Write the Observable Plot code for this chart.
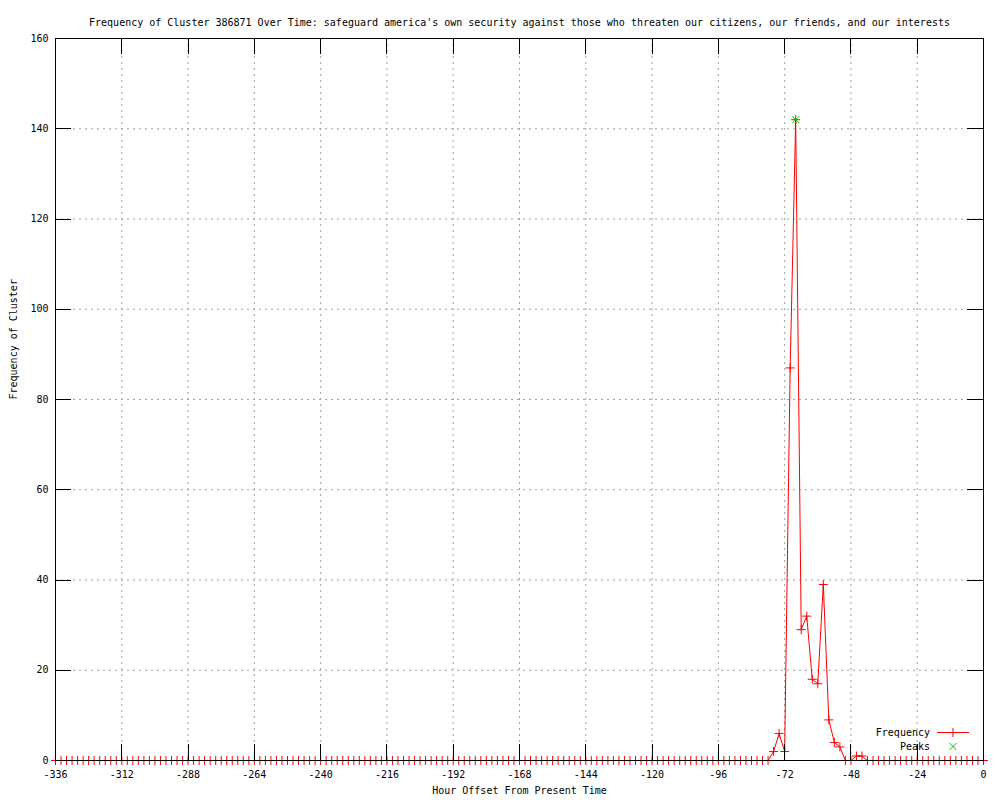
<!DOCTYPE html>
<html><head><meta charset="utf-8">
<script src="https://cdn.jsdelivr.net/npm/d3@7"></script>
<script src="https://cdn.jsdelivr.net/npm/@observablehq/plot@0.6"></script>
<style>body{margin:0;background:#fff}</style>
</head><body><div id="chart"></div>
<script>
const title = "Frequency of Cluster 386871 Over Time: safeguard america's own security against those who threaten our citizens, our friends, and our interests";
const xLabel = "Hour Offset From Present Time";
const yLabel = "Frequency of Cluster";
const hours = d3.range(-336, 1, 2);
const frequency = [
  0,0,0,0,0,0,0,0,0,0,
  0,0,0,0,0,0,0,0,0,0,
  0,0,0,0,0,0,0,0,0,0,
  0,0,0,0,0,0,0,0,0,0,
  0,0,0,0,0,0,0,0,0,0,
  0,0,0,0,0,0,0,0,0,0,
  0,0,0,0,0,0,0,0,0,0,
  0,0,0,0,0,0,0,0,0,0,
  0,0,0,0,0,0,0,0,0,0,
  0,0,0,0,0,0,0,0,0,0,
  0,0,0,0,0,0,0,0,0,0,
  0,0,0,0,0,0,0,0,0,0,
  0,0,0,0,0,0,0,0,0,0,
  2,6,2,87,142,29,32,18,17,39,9,4,3,0,0,1,1,
  0,0,0,0,0,0,0,0,0,0,
  0,0,0,0,0,0,0,0,0,0,
  0,0
];
const peakHours = [-68];
const peakValues = [142];
const xTicks = [-336,-312,-288,-264,-240,-216,-192,-168,-144,-120,-96,-72,-48,-24,0];
const yTicks = [0,20,40,60,80,100,120,140,160];

const data = hours.map((h, i) => ({hour: h, freq: frequency[i]}));
const peaks = peakHours.map((h, i) => ({hour: h, freq: peakValues[i]}));

const FONT = "DejaVu Sans Mono";
const RED = "#ff0000", GREEN = "#00c000";

const plusSymbol = {draw(ctx, size) {
  const r = Math.sqrt(size / Math.PI);
  ctx.moveTo(-r, 0); ctx.lineTo(r, 0);
  ctx.moveTo(0, -r); ctx.lineTo(0, r);
}};
const crossSymbol = {draw(ctx, size) {
  const r = Math.sqrt(size / Math.PI) * 0.75;
  ctx.moveTo(-r, -r); ctx.lineTo(r, r);
  ctx.moveTo(-r, r); ctx.lineTo(r, -r);
}};

function innerTicks(index, scales, values, dims) {
  const {x, y} = scales;
  const L = 16;
  const left = dims.marginLeft, right = dims.width - dims.marginRight;
  const top = dims.marginTop, bottom = dims.height - dims.marginBottom;
  const g = d3.create("svg:g").attr("stroke", "black").attr("stroke-width", 1).attr("fill", "none");
  for (const t of xTicks) {
    const px = Math.round(x(t)) + 0.5;
    g.append("line").attr("x1", px).attr("x2", px).attr("y1", bottom).attr("y2", bottom - L);
    g.append("line").attr("x1", px).attr("x2", px).attr("y1", top).attr("y2", top + L);
  }
  for (const t of yTicks) {
    const py = Math.round(y(t)) + 0.5;
    g.append("line").attr("x1", left).attr("x2", left + L).attr("y1", py).attr("y2", py);
    g.append("line").attr("x1", right).attr("x2", right - L).attr("y1", py).attr("y2", py);
  }
  return g.node();
}

function legend(index, scales, values, dims) {
  const right = dims.width - dims.marginRight, bottom = dims.height - dims.marginBottom;
  const g = d3.create("svg:g").attr("font-family", FONT).attr("font-size", 10);
  const rows = [
    {label: "Frequency", dy: -28, line: true, color: RED, sym: "plus"},
    {label: "Peaks", dy: -14, line: false, color: GREEN, sym: "cross"}
  ];
  for (const r of rows) {
    const yy = bottom + r.dy + 0.5;
    g.append("text").attr("x", right - 53).attr("y", yy).attr("dy", "0.32em")
      .attr("text-anchor", "end").attr("fill", "black").text(r.label);
    const cx = right - 30;
    if (r.line) g.append("line").attr("x1", right - 46).attr("x2", right - 14)
      .attr("y1", yy).attr("y2", yy).attr("stroke", r.color);
    const p = d3.path();
    if (r.sym === "plus") {
      p.moveTo(cx - 4.5, yy); p.lineTo(cx + 4.5, yy); p.moveTo(cx, yy - 4.5); p.lineTo(cx, yy + 4.5);
    } else {
      p.moveTo(cx - 3.5, yy - 3.5); p.lineTo(cx + 3.5, yy + 3.5); p.moveTo(cx - 3.5, yy + 3.5); p.lineTo(cx + 3.5, yy - 3.5);
    }
    g.append("path").attr("d", p.toString()).attr("stroke", r.color).attr("fill", "none");
  }
  return g.node();
}

const chart = Plot.plot({
  width: 1000,
  height: 800,
  marginLeft: 55,
  marginRight: 17,
  marginTop: 38,
  marginBottom: 40,
  style: {fontFamily: FONT, fontSize: "10px", background: "white", color: "black"},
  x: {domain: [-336, 0]},
  y: {domain: [0, 160]},
  marks: [
    Plot.gridX(xTicks, {stroke: "#a0a0a0", strokeOpacity: 1, strokeDasharray: "2,4"}),
    Plot.gridY(yTicks, {stroke: "#a0a0a0", strokeOpacity: 1, strokeDasharray: "2,4"}),
    Plot.line(data, {x: "hour", y: "freq", stroke: RED, strokeWidth: 1}),
    Plot.dot(data, {x: "hour", y: "freq", symbol: plusSymbol, r: 4.5, fill: "none", stroke: RED, strokeWidth: 1}),
    Plot.dot(peaks, {x: "hour", y: "freq", symbol: crossSymbol, r: 4.5, fill: "none", stroke: GREEN, strokeWidth: 1}),
    Plot.frame({stroke: "black"}),
    innerTicks,
    Plot.axisX(xTicks, {tickSize: 0, tickPadding: 10, tickFormat: d => String(d), label: null, fontSize: 10}),
    Plot.axisY(yTicks, {tickSize: 0, tickPadding: 7, tickFormat: d => String(d), label: null, fontSize: 10}),
    Plot.text([title], {frameAnchor: "top", dy: -20, fontSize: 10, fill: "black"}),
    Plot.text([xLabel], {frameAnchor: "bottom", dy: 33, fontSize: 10, fill: "black"}),
    Plot.text([yLabel], {frameAnchor: "left", dx: -42, rotate: -90, fontSize: 10, fill: "black"}),
    legend
  ]
});
document.getElementById("chart").appendChild(chart);
</script>
</body></html>
